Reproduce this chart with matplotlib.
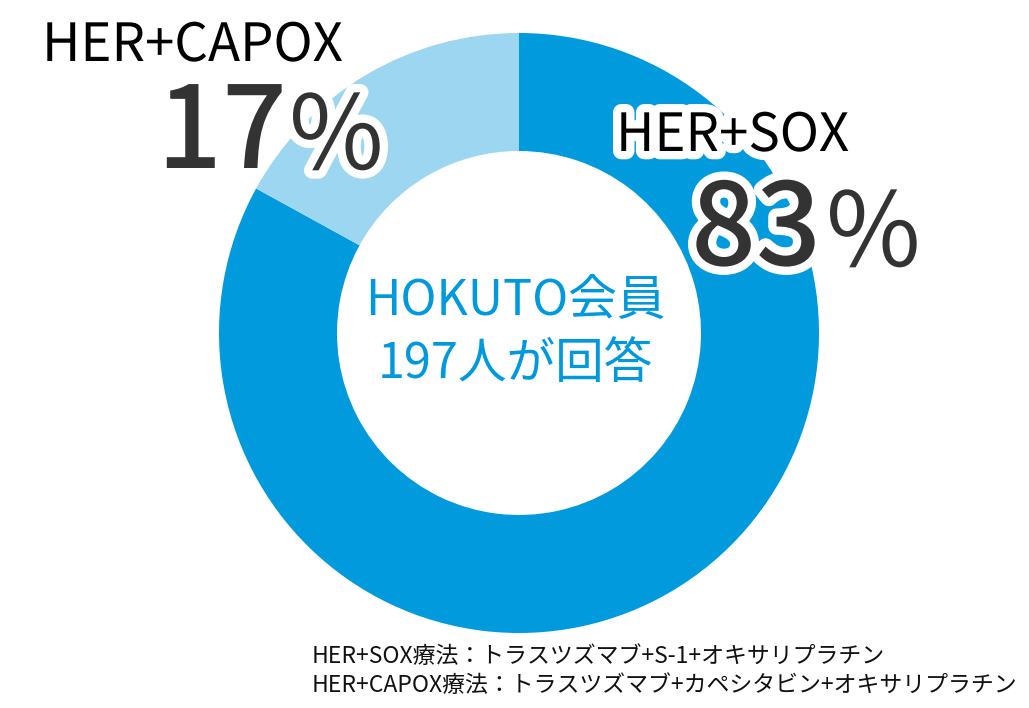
import matplotlib
matplotlib.use("Agg")
import matplotlib.pyplot as plt
import matplotlib.patheffects as pe

plt.rcParams['font.family'] = ['Noto Sans CJK JP', 'DejaVu Sans']

# data
labels = ['HER+SOX', 'HER+CAPOX']
shares = [83, 17]
colors = ['#009ADD', '#9CD6F0']
center_lines = ['HOKUTO会員', '197人が回答']
notes = ['HER+SOX療法：トラスツズマブ+S-1+オキサリプラチン',
         'HER+CAPOX療法：トラスツズマブ+カペシタビン+オキサリプラチン']

W, H = 1029, 708
fig = plt.figure(figsize=(W / 100, H / 100), dpi=100)
ax = fig.add_axes([0, 0, 1, 1])

# donut, coords in pixels (y up)
ax.pie(shares, colors=colors, startangle=90, counterclock=False,
       center=(519, H - 333), radius=300,
       wedgeprops=dict(width=118, linewidth=0))
ax.set_xlim(0, W)
ax.set_ylim(0, H)
ax.axis('off')

halo = [pe.withStroke(linewidth=12, foreground='white')]

# SOX label
ax.text(616, H - 151, labels[0], fontsize=38, color='black', ha='left',
        va='baseline', path_effects=halo)
ax.text(821, H - 265, f'{shares[0]}', fontsize=82, weight='medium', color='#333333',
        ha='right', va='baseline', path_effects=halo)
ax.text(826, H - 266, '%', fontsize=74, color='#333333',
        ha='left', va='baseline', path_effects=halo)

# CAPOX label
ax.text(42, H - 61, labels[1], fontsize=38, color='black', ha='left',
        va='baseline', path_effects=halo)
ax.text(287, H - 168, f'{shares[1]}', fontsize=82, weight='medium', color='#333333',
        ha='right', va='baseline', path_effects=halo)
ax.text(289, H - 169, '%', fontsize=74, color='#333333',
        ha='left', va='baseline', path_effects=halo)

# center text
ax.text(515, H - 315, center_lines[0], fontsize=35, color='#0099DD',
        ha='center', va='baseline')
ax.text(515, H - 378, center_lines[1], fontsize=35, color='#0099DD',
        ha='center', va='baseline')

# footnote
ax.text(312, H - 663, notes[0], fontsize=16.5, color='#111111', ha='left', va='baseline')
ax.text(312, H - 692, notes[1], fontsize=16.5, color='#111111', ha='left', va='baseline')

fig.savefig('out.png', dpi=100)
